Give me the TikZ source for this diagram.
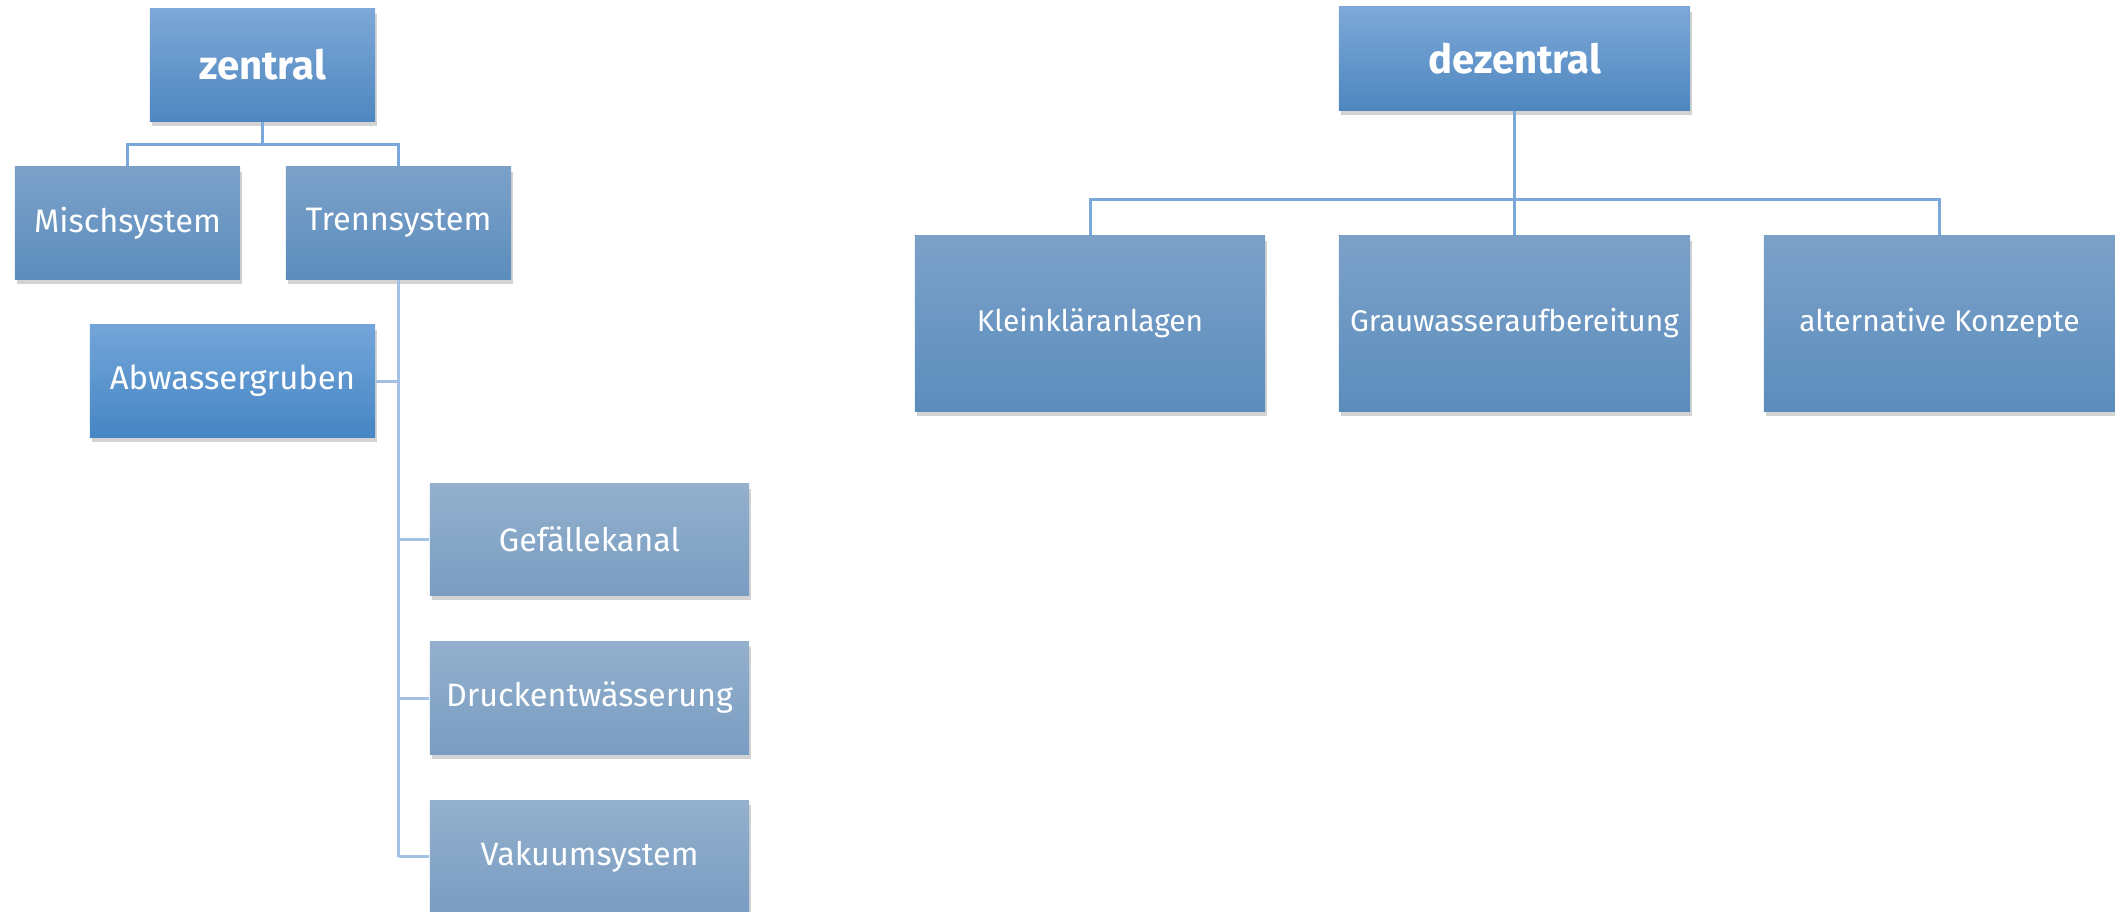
\documentclass[tikz,border=0pt]{standalone}
\usepackage{fontspec}
\setmainfont{Fira Sans}
\usetikzlibrary{shadows,calc}
\definecolor{hTop}{HTML}{7DA8D8}
\definecolor{hBot}{HTML}{4E87BF}
\definecolor{cTop}{HTML}{7CA1C9}
\definecolor{cBot}{HTML}{5B8DBC}
\definecolor{aTop}{HTML}{73A5D9}
\definecolor{aBot}{HTML}{4686C4}
\definecolor{gTop}{HTML}{93B0CD}
\definecolor{gBot}{HTML}{7A9DC2}
\definecolor{lineA}{HTML}{7AA8DA}
\definecolor{lineB}{HTML}{A3C1E5}
\tikzset{
  x=0.01cm, y=-0.01cm,
  box/.style={rectangle, inner sep=0pt, text=white, align=center,
    drop shadow={opacity=0.35, shadow xshift=0.02cm, shadow yshift=-0.05cm}},
  head/.style={box, top color=hTop, bottom color=hBot, font=\fontsize{11.4}{13}\selectfont\bfseries},
  child/.style={box, top color=cTop, bottom color=cBot, font=\fontsize{9.25}{12}\selectfont},
  pit/.style={box, top color=aTop, bottom color=aBot, font=\fontsize{9.35}{12}\selectfont},
  sub/.style={box, top color=gTop, bottom color=gBot, font=\fontsize{9.2}{11}\selectfont},
  rchild/.style={box, top color=cTop, bottom color=cBot, font=\fontsize{8.5}{10}\selectfont},
  conn/.style={draw=lineA, line width=0.85pt},
  connl/.style={draw=lineB, line width=0.85pt},
}
\begin{document}
\begin{tikzpicture}
\useasboundingbox (0,0) rectangle (2115,911);
% left tree
\node[head, minimum width=2.25cm, minimum height=1.12cm] (zentral) at (262.5,65) {zentral};
\node[child, minimum width=2.25cm, minimum height=1.12cm] (misch) at (127.5,223) {Mischsystem};
\node[child, minimum width=2.25cm, minimum height=1.12cm] (trenn) at (398.5,223) {Trennsystem};
\node[pit, minimum width=2.85cm, minimum height=1.12cm] (abw) at (232.5,381) {Abwassergruben};
\node[sub, minimum width=3.19cm, minimum height=1.11cm] (gef) at (589.5,539.5) {Gefällekanal};
\node[sub, minimum width=3.19cm, minimum height=1.12cm] (druck) at (589.5,698) {Druckentwässerung};
\node[sub, minimum width=3.19cm, minimum height=1.12cm] (vak) at (589.5,856.5) {Vakuumsystem};
\coordinate (zj) at (262.5,144);
\draw[conn] (zentral.south) -- (zj);
\draw[conn] (misch.north) |- (zj) -| (trenn.north);
\draw[connl] (trenn.south) -- (trenn.south |- vak.west);
\draw[connl] (abw.east) -- (abw.east -| trenn.south);
\draw[connl] (gef.west) -- (gef.west -| trenn.south);
\draw[connl] (druck.west) -- (druck.west -| trenn.south);
\draw[connl] (vak.west) -- (vak.west -| trenn.south);
% right tree
\node[head, minimum width=3.51cm, minimum height=1.03cm] (dez) at (1514.5,58.5) {dezentral};
\node[rchild, minimum width=3.50cm, minimum height=1.75cm] (klein) at (1090,323.5) {Kleinkläranlagen};
\node[rchild, minimum width=3.51cm, minimum height=1.75cm] (grau) at (1514.5,323.5) {Grauwasseraufbereitung};
\node[rchild, minimum width=3.51cm, minimum height=1.75cm] (alt) at (1939.5,323.5) {alternative Konzepte};
\coordinate (dj) at (1514.5,199);
\draw[conn] (dez.south) -- (dj);
\draw[conn] (klein.north) |- (dj) -| (alt.north);
\draw[conn] (dj) -- (grau.north);
\end{tikzpicture}
\end{document}
